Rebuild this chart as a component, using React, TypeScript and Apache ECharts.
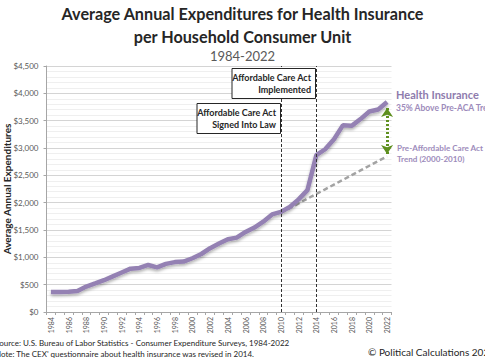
import React, { useEffect, useRef } from "react";
import * as echarts from "echarts";

const years = [
  "1984","1985","1986","1987","1988","1989","1990","1991","1992","1993",
  "1994","1995","1996","1997","1998","1999","2000","2001","2002","2003",
  "2004","2005","2006","2007","2008","2009","2010","2011","2012","2013",
  "2014","2015","2016","2017","2018","2019","2020","2021","2022",
];
const healthInsurance = [
  366, 368, 371, 386, 466, 522, 581, 652, 723, 793,
  806, 860, 815, 881, 913, 923, 983, 1061, 1168, 1252,
  1332, 1361, 1465, 1545, 1653, 1785, 1831, 1922, 2061, 2229,
  2868, 2977, 3160, 3414, 3405, 3529, 3669, 3704, 3840,
];
const preAcaTrend = [
  null, null, null, null, null, null, null, null, null, null,
  null, null, null, null, null, null, null, null, null, null,
  null, null, null, null, null, null, 1815, 1901, 1987, 2073,
  2159, 2245, 2331, 2417, 2503, 2589, 2675, 2761, 2847,
];
const acaYears = ["2010", "2014"];
const arrowRange = [2890, 3730];

const FONT = "Lato";

function txt(x: number, y: number, text: string, size: number, opts: any = {}) {
  return {
    type: "text",
    x,
    y,
    z: opts.z ?? 11,
    rotation: opts.rotation ?? 0,
    style: {
      text,
      fontFamily: FONT,
      fontSize: size,
      fontWeight: opts.bold ? "bold" : "normal",
      fill: opts.color ?? "#262626",
      align: opts.align ?? "left",
      verticalAlign: opts.verticalAlign ?? "top",
      lineHeight: opts.lineHeight ?? Math.round(size * 1.2),
    },
  };
}

export default function App() {
  const ref = useRef<HTMLDivElement>(null);
  useEffect(() => {
    const chart = echarts.init(ref.current!, null, { renderer: "svg" });
    const option: any = {
      animation: false,
      textStyle: { fontFamily: FONT },
      grid: {
        left: 46.5, right: 93.5, top: 66, bottom: 48,
        containLabel: false, outerBoundsMode: "none",
      },
      xAxis: {
        type: "category",
        data: years,
        boundaryGap: true,
        axisLine: { lineStyle: { color: "#a6a6a6" } },
        axisTick: { show: true, interval: 0, length: 3, lineStyle: { color: "#a6a6a6" } },
        axisLabel: { interval: 1, rotate: 90, fontSize: 7, color: "#595959", margin: 5, fontFamily: FONT },
        splitLine: { show: false },
      },
      yAxis: {
        type: "value",
        min: 0,
        max: 4500,
        interval: 500,
        axisLine: { show: true, lineStyle: { color: "#a6a6a6" } },
        axisTick: { show: true, length: 3, lineStyle: { color: "#a6a6a6" } },
        axisLabel: {
          fontSize: 8, color: "#595959", margin: 8, fontFamily: FONT,
          formatter: (v: number) => "$" + v.toLocaleString("en-US"),
        },
        splitLine: { lineStyle: { color: "#d4d4d4" } },
        minorTick: { show: false, splitNumber: 5 },
        minorSplitLine: { show: true, lineStyle: { color: "#efefef" } },
      },
      series: [
        {
          name: "Pre-ACA Trend",
          type: "line",
          data: preAcaTrend,
          symbol: "none",
          z: 2,
          lineStyle: { color: "#a3a3a3", width: 2.5, type: [5, 3] },
          markLine: {
            silent: true,
            symbol: ["arrow", "arrow"],
            symbolSize: 9,
            label: { show: false },
            lineStyle: { color: "#5e8f1f", width: 3, type: [2, 2] },
            data: [[
              { coord: ["2022", arrowRange[0]] },
              { coord: ["2022", arrowRange[1]] },
            ]],
          },
        },
        {
          name: "Health Insurance",
          type: "line",
          data: healthInsurance,
          symbol: "none",
          z: 3,
          lineStyle: {
            color: "#9481b3", width: 4.5,
            shadowColor: "rgba(0,0,0,0.3)", shadowBlur: 3, shadowOffsetY: 2,
          },
          markLine: {
            silent: true,
            symbol: "none",
            label: { show: false },
            lineStyle: { color: "#333333", width: 1, type: [3, 2] },
            data: acaYears.map((y) => ({ xAxis: y })),
          },
        },
      ],
      graphic: [
        txt(242.5, 4, "Average Annual Expenditures for Health Insurance", 16.2, { bold: true, align: "center" }),
        txt(242.5, 27, "per Household Consumer Unit", 16.2, { bold: true, align: "center" }),
        txt(242.5, 48, "1984-2022", 13, { color: "#595959", align: "center" }),
        txt(7, 189, "Average Annual Expenditures", 10, {
          bold: true, align: "center", verticalAlign: "middle", rotation: Math.PI / 2,
        }),
        {
          type: "rect", z: 10,
          shape: { x: 232, y: 68.5, width: 83.5, height: 30 },
          style: { fill: "#ffffff", stroke: "#262626", lineWidth: 1 },
        },
        txt(311, 71, "Affordable Care Act\nImplemented", 9, { bold: true, align: "right", lineHeight: 12.5 }),
        {
          type: "rect", z: 10,
          shape: { x: 197, y: 103.5, width: 83.5, height: 30 },
          style: { fill: "#ffffff", stroke: "#262626", lineWidth: 1 },
        },
        txt(276, 106, "Affordable Care Act\nSigned Into Law", 9, { bold: true, align: "right", lineHeight: 12.5 }),
        txt(396, 88, "Health Insurance", 11, { bold: true, color: "#8e7bad" }),
        txt(396, 103, "35% Above Pre-ACA Trend", 8.5, { bold: true, color: "#9d8bbb" }),
        txt(397, 142, "Pre-Affordable Care Act\nTrend (2000-2010)", 8.1, { bold: true, color: "#9d8bbb", lineHeight: 11.5 }),
        txt(-5, 338, "Source: U.S. Bureau of Labor Statistics - Consumer Expenditure Surveys, 1984-2022", 8),
        txt(-5, 349, "Note: The CEX' questionnaire about health insurance was revised in 2014.", 8),
        txt(368, 346, "© Political Calculations 2023", 10),
      ],
    };
    chart.setOption(option);
    return () => chart.dispose();
  }, []);
  return (
    <div
      ref={ref}
      style={{ position: "fixed", left: 0, top: 0, width: 485, height: 360, background: "#ffffff" }}
    />
  );
}
